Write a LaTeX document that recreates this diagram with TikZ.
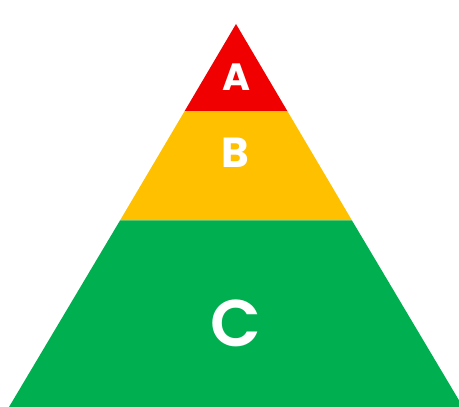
\documentclass[tikz,border=0pt]{standalone}
\usepackage{fontspec}
\setmainfont{Poppins}
\newfontfamily\pmed{Poppins SemiBold}
\definecolor{pyrred}{HTML}{F00000}
\definecolor{pyryellow}{HTML}{FFC000}
\definecolor{pyrgreen}{HTML}{00B050}
\begin{document}
\begin{tikzpicture}[x=1pt,y=1pt,
  lbl/.style={text=white,inner sep=0pt,anchor=center}]
\useasboundingbox (0,0) rectangle (459,407);
\clip (0,0) rectangle (459,407);
\fill[white] (0,0) rectangle (459,407);
% apex (236,24) in image coords; tikz y = 407 - y
\coordinate (apex) at (236,383);
\coordinate (abL) at (184.4,295.5);
\coordinate (abR) at (287.6,295.5);
\coordinate (bcL) at (120.0,186.5);
\coordinate (bcR) at (352.0,186.5);
\coordinate (baseL) at (9,0);
\coordinate (baseR) at (463,0);
\fill[pyrred] (apex) -- (abR) -- (abL) -- cycle;
\fill[pyryellow] (abL) -- (abR) -- (bcR) -- (bcL) -- cycle;
\fill[pyrgreen] (bcL) -- (bcR) -- (baseR) -- (baseL) -- cycle;
\node[lbl,font=\fontsize{38}{38}\selectfont\bfseries] (a) at (237,330) {A};
\node[lbl,font=\fontsize{42}{42}\selectfont\bfseries] (b) at (235,254) {B};
\node[lbl,font=\fontsize{66}{66}\selectfont\pmed] (c) at (236,84) {C};
\end{tikzpicture}
\end{document}
